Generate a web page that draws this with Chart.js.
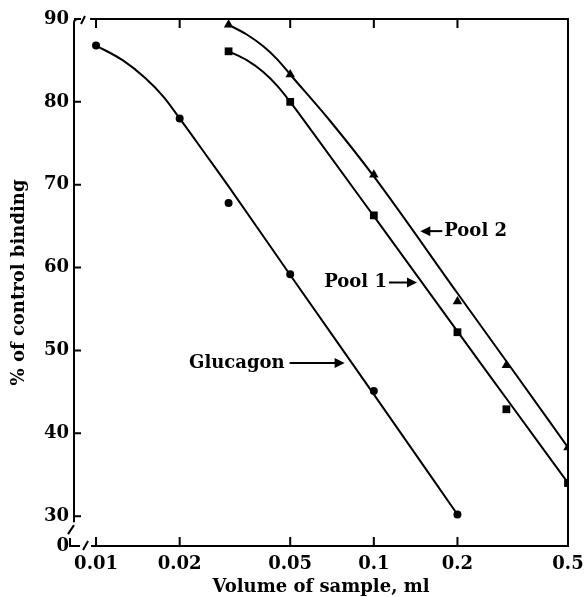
<!DOCTYPE html>
<html>
<head>
<meta charset="utf-8">
<script src="https://cdn.jsdelivr.net/npm/chart.js@4/dist/chart.umd.min.js"></script>
<style>
    html, body { margin: 0; padding: 0; background: #fff; }
    #wrap { width: 585px; height: 597px; position: relative; }
</style>
</head>
<body>
<div id="wrap"><canvas id="chart"></canvas></div>
<script>
// data
const xTicks = [0.01, 0.02, 0.05, 0.1, 0.2, 0.5];
const yTicks = [30, 40, 50, 60, 70, 80, 90];
const yBreakValue = 26.4;   // where the "0" of the broken axis sits

const glucagonX = [0.01, 0.02, 0.03, 0.05, 0.1, 0.2];
const glucagonY = [86.8, 78.0, 67.8, 59.2, 45.1, 30.2];
const pool1X = [0.03, 0.05, 0.1, 0.2, 0.3, 0.5];
const pool1Y = [86.1, 80.0, 66.3, 52.2, 42.9, 34.0];
const pool2X = [0.03, 0.05, 0.1, 0.2, 0.3, 0.5];
const pool2Y = [89.3, 83.3, 71.2, 55.9, 48.2, 38.3];

// drawn (fitted) curves
const glucagonCurveX = [0.01, 0.0125, 0.015, 0.0175, 0.02, 0.025, 0.03, 0.05, 0.1, 0.2];
const glucagonCurveY = [86.8, 85.0, 82.9, 80.6, 78.0, 73.5, 69.8, 59.1, 44.7, 30.2];
const pool1CurveX = [0.03, 0.035, 0.04, 0.045, 0.05, 0.06, 0.1, 0.2, 0.3, 0.5];
const pool1CurveY = [86.1, 85.0, 83.6, 81.9, 80.0, 76.4, 66.2, 52.3, 44.2, 34.0];
const pool2CurveX = [0.03, 0.035, 0.04, 0.045, 0.05, 0.07, 0.1, 0.2, 0.3, 0.5];
const pool2CurveY = [89.3, 88.1, 86.7, 85.1, 83.3, 77.6, 71.0, 56.9, 48.7, 38.3];

const FONT = 'DejaVu Serif';

function pts(xs, ys) {
    return xs.map((x, i) => ({ x: x, y: ys[i] }));
}

function curve(xs, ys) {
    return {
        data: pts(xs, ys),
        showLine: true,
        borderColor: '#000',
        borderWidth: 2,
        pointRadius: 0,
        cubicInterpolationMode: 'monotone'
    };
}

function marks(xs, ys, style, r) {
    return {
        data: pts(xs, ys),
        showLine: false,
        pointStyle: style,
        pointRadius: r,
        backgroundColor: '#000',
        borderColor: '#000',
        borderWidth: 0
    };
}

// frame, ticks, axis breaks and labels with arrows
const decorPlugin = {
    id: 'decor',
    afterDraw(chart) {
        const ctx = chart.ctx;
        const xs = chart.scales.x, ys = chart.scales.y;
        const a = chart.chartArea;
        const L = a.left, R = a.right, T = a.top, B = a.bottom;
        const y30 = ys.getPixelForValue(30);
        const x01 = xs.getPixelForValue(0.01);

        ctx.save();
        ctx.strokeStyle = '#000';
        ctx.fillStyle = '#000';
        ctx.lineWidth = 2;
        ctx.lineCap = 'butt';

        ctx.beginPath();
        // left axis, broken at top and bottom
        ctx.moveTo(L, T + 4);
        ctx.lineTo(L, y30 + 6);
        // top hook + slash
        ctx.moveTo(L, T + 4);
        ctx.quadraticCurveTo(L, T, L + 4, T);
        ctx.moveTo(L + 7, T + 5);
        ctx.lineTo(L + 11, T - 3);
        // top border
        ctx.moveTo(x01 - 6, T);
        ctx.lineTo(R, T);
        // right border
        ctx.lineTo(R, B);
        // bottom axis
        ctx.lineTo(x01 - 5, B);
        // bottom slash on x axis
        ctx.moveTo(x01 - 13, B + 4);
        ctx.lineTo(x01 - 8, B - 5);
        // bottom-left break
        ctx.moveTo(L - 6, y30 + 18);
        ctx.lineTo(L, y30 + 9);
        ctx.moveTo(L - 4, B - 8);
        ctx.lineTo(L - 4, B);
        ctx.lineTo(L + 6, B);
        ctx.stroke();

        // ticks
        ctx.beginPath();
        xTicks.forEach(v => {
            const px = xs.getPixelForValue(v);
            ctx.moveTo(px, B);
            ctx.lineTo(px, B - 9);
            ctx.moveTo(px, T);
            ctx.lineTo(px, T + 9);
        });
        yTicks.forEach(v => {
            const py = ys.getPixelForValue(v);
            ctx.moveTo(L, py);
            ctx.lineTo(L + 7, py);
        });
        ctx.stroke();

        // labels
        ctx.font = 'bold 18px "' + FONT + '"';
        ctx.textBaseline = 'middle';

        function arrow(x1, x2, y) {
            const dir = Math.sign(x2 - x1);
            ctx.beginPath();
            ctx.moveTo(x1, y);
            ctx.lineTo(x2 - dir * 8, y);
            ctx.stroke();
            ctx.beginPath();
            ctx.moveTo(x2, y);
            ctx.lineTo(x2 - dir * 10, y - 5);
            ctx.lineTo(x2 - dir * 10, y + 5);
            ctx.closePath();
            ctx.fill();
        }

        // Glucagon ->
        let tip = xs.getPixelForValue(0.0785), yy = ys.getPixelForValue(48.5);
        ctx.textAlign = 'right';
        ctx.fillText('Glucagon', tip - 60, yy);
        arrow(tip - 55, tip, yy);

        // Pool 1 ->
        tip = xs.getPixelForValue(0.143); yy = ys.getPixelForValue(58.2);
        ctx.fillText('Pool 1', tip - 30, yy);
        arrow(tip - 28, tip, yy);

        // <- Pool 2
        tip = xs.getPixelForValue(0.147); yy = ys.getPixelForValue(64.4);
        ctx.textAlign = 'left';
        arrow(tip + 22, tip, yy);
        ctx.fillText('Pool 2', tip + 24, yy);

        ctx.restore();
    }
};

const ctx = document.getElementById('chart').getContext('2d');
new Chart(ctx, {
    type: 'scatter',
    data: {
        datasets: [
            curve(glucagonCurveX, glucagonCurveY),
            curve(pool1CurveX, pool1CurveY),
            curve(pool2CurveX, pool2CurveY),
            marks(glucagonX, glucagonY, 'circle', 4),
            marks(pool1X, pool1Y, 'rect', 5.5),
            marks(pool2X, pool2Y, 'triangle', 5.5)
        ]
    },
    options: {
        responsive: true,
        maintainAspectRatio: false,
        animation: false,
        layout: { padding: { top: 19, right: 17, left: 0, bottom: 0 } },
        plugins: {
            legend: { display: false },
            tooltip: { enabled: false }
        },
        scales: {
            x: {
                type: 'logarithmic',
                min: 0.00833,
                max: 0.5,
                grid: { display: false, drawTicks: false },
                border: { display: false },
                afterBuildTicks(scale) {
                    scale.ticks = xTicks.map(v => ({ value: v }));
                },
                afterFit(scale) { scale.height = 51; },
                ticks: {
                    autoSkip: false,
                    maxRotation: 0,
                    padding: 1,
                    color: '#000',
                    font: { family: FONT, size: 18, weight: 'bold', lineHeight: 1.95 },
                    callback: v => String(v)
                },
                title: {
                    display: true,
                    text: 'Volume of sample, ml',
                    color: '#000',
                    padding: { top: 0, bottom: -1 },
                    font: { family: FONT, size: 18, weight: 'bold' }
                }
            },
            y: {
                min: yBreakValue,
                max: 90,
                grid: { display: false, drawTicks: false },
                border: { display: false },
                afterBuildTicks(scale) {
                    scale.ticks = [yBreakValue].concat(yTicks).map(v => ({ value: v }));
                },
                afterFit(scale) { scale.width = 74; },
                ticks: {
                    padding: 5,
                    color: '#000',
                    font: { family: FONT, size: 18, weight: 'bold' },
                    callback: v => (v === yBreakValue ? '0' : String(v))
                },
                title: {
                    display: true,
                    text: '% of control binding',
                    color: '#000',
                    padding: { top: 9, bottom: 0 },
                    font: { family: FONT, size: 18, weight: 'bold' }
                }
            }
        }
    },
    plugins: [decorPlugin]
});
</script>
</body>
</html>
